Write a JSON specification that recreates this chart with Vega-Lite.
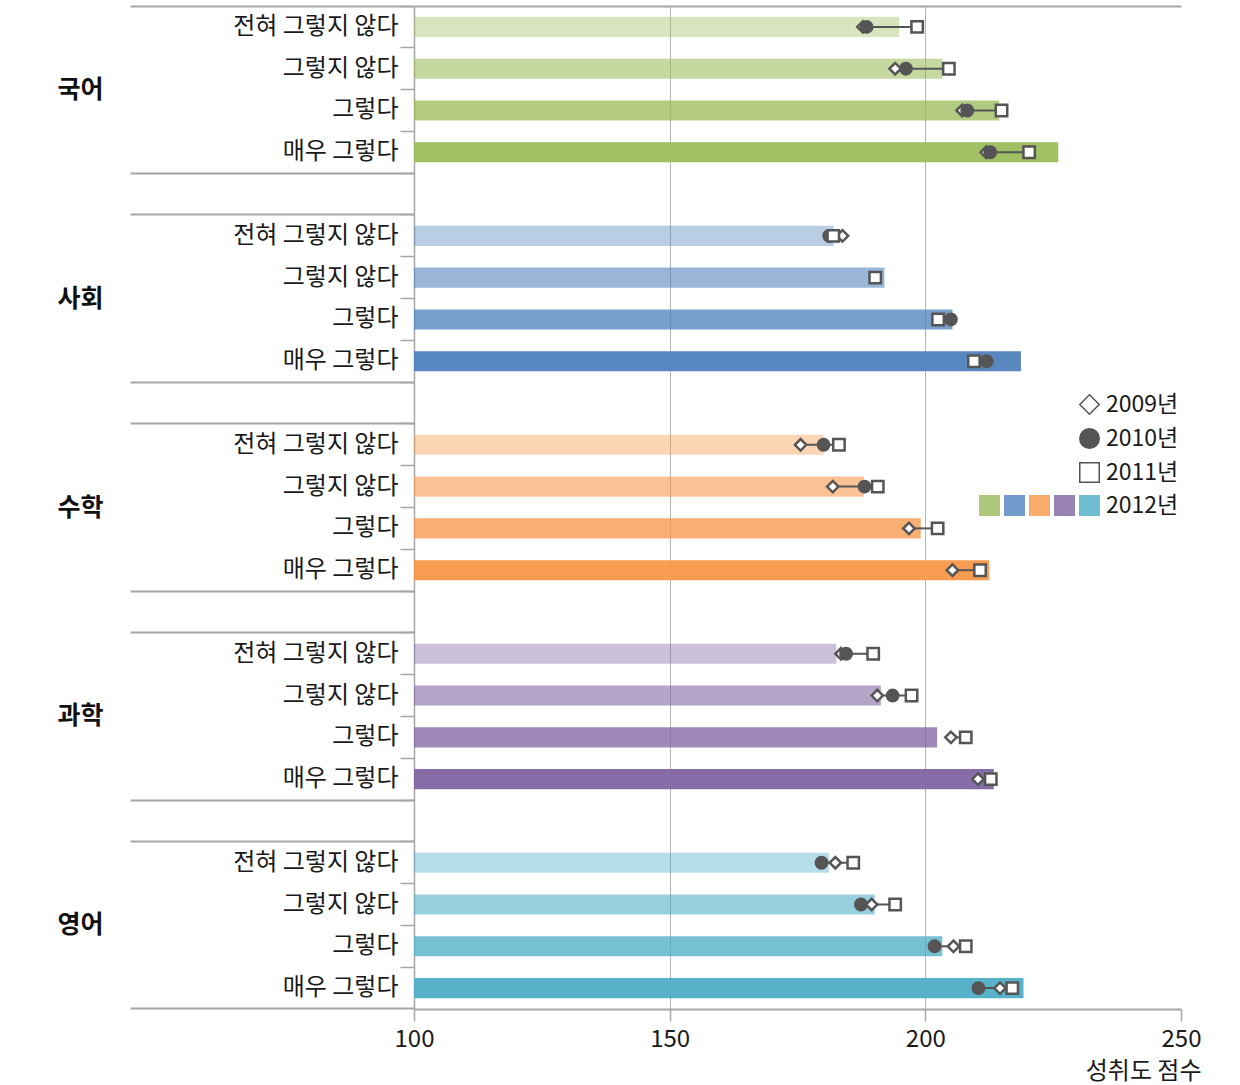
{
  "$schema": "https://vega.github.io/schema/vega-lite/v6.json",
  "width": 767,
  "height": 1003,
  "autosize": {"type": "none"},
  "padding": {"left": 414, "top": 6, "right": 59, "bottom": 76},
  "config": {"view": {"stroke": null}, "font": "Noto Sans CJK KR"},
  "data": {
    "values": [
      {"subject": "국어", "level": "전혀 그렇지 않다", "row": "국어|전혀 그렇지 않다", "2009년": 187.8, "2010년": 188.5, "2011년": 198.4, "2012년": 194.9},
      {"subject": "국어", "level": "그렇지 않다", "row": "국어|그렇지 않다", "2009년": 194.1, "2010년": 196.2, "2011년": 204.6, "2012년": 203.3},
      {"subject": "국어", "level": "그렇다", "row": "국어|그렇다", "2009년": 207.2, "2010년": 208.2, "2011년": 214.9, "2012년": 214.4},
      {"subject": "국어", "level": "매우 그렇다", "row": "국어|매우 그렇다", "2009년": 211.9, "2010년": 212.7, "2011년": 220.3, "2012년": 226.0},
      {"subject": "사회", "level": "전혀 그렇지 않다", "row": "사회|전혀 그렇지 않다", "2009년": 183.8, "2010년": 181.2, "2011년": 182.0, "2012년": 182.1},
      {"subject": "사회", "level": "그렇지 않다", "row": "사회|그렇지 않다", "2009년": null, "2010년": null, "2011년": 190.2, "2012년": 192.0},
      {"subject": "사회", "level": "그렇다", "row": "사회|그렇다", "2009년": null, "2010년": 205.0, "2011년": 202.5, "2012년": 205.3},
      {"subject": "사회", "level": "매우 그렇다", "row": "사회|매우 그렇다", "2009년": null, "2010년": 212.0, "2011년": 209.5, "2012년": 218.7},
      {"subject": "수학", "level": "전혀 그렇지 않다", "row": "수학|전혀 그렇지 않다", "2009년": 175.6, "2010년": 180.1, "2011년": 183.1, "2012년": 180.1},
      {"subject": "수학", "level": "그렇지 않다", "row": "수학|그렇지 않다", "2009년": 181.9, "2010년": 188.1, "2011년": 190.7, "2012년": 188.0},
      {"subject": "수학", "level": "그렇다", "row": "수학|그렇다", "2009년": 196.8, "2010년": null, "2011년": 202.4, "2012년": 199.1},
      {"subject": "수학", "level": "매우 그렇다", "row": "수학|매우 그렇다", "2009년": 205.3, "2010년": null, "2011년": 210.7, "2012년": 212.5},
      {"subject": "과학", "level": "전혀 그렇지 않다", "row": "과학|전혀 그렇지 않다", "2009년": 183.5, "2010년": 184.5, "2011년": 189.8, "2012년": 182.6},
      {"subject": "과학", "level": "그렇지 않다", "row": "과학|그렇지 않다", "2009년": 190.6, "2010년": 193.6, "2011년": 197.3, "2012년": 191.3},
      {"subject": "과학", "level": "그렇다", "row": "과학|그렇다", "2009년": 205.0, "2010년": null, "2011년": 207.9, "2012년": 202.3},
      {"subject": "과학", "level": "매우 그렇다", "row": "과학|매우 그렇다", "2009년": 210.3, "2010년": null, "2011년": 212.8, "2012년": 213.4},
      {"subject": "영어", "level": "전혀 그렇지 않다", "row": "영어|전혀 그렇지 않다", "2009년": 182.4, "2010년": 179.7, "2011년": 185.9, "2012년": 181.2},
      {"subject": "영어", "level": "그렇지 않다", "row": "영어|그렇지 않다", "2009년": 189.5, "2010년": 187.4, "2011년": 194.1, "2012년": 190.1},
      {"subject": "영어", "level": "그렇다", "row": "영어|그렇다", "2009년": 205.5, "2010년": 201.8, "2011년": 207.9, "2012년": 203.3},
      {"subject": "영어", "level": "매우 그렇다", "row": "영어|매우 그렇다", "2009년": 214.6, "2010년": 210.4, "2011년": 217.0, "2012년": 219.2}
    ]
  },
  "resolve": {"axis": {"x": "independent", "y": "independent"}},
  "layer": [
    {
      "mark": {"type": "bar", "height": {"band": 0.48}},
      "encoding": {
        "y": {
          "field": "row", "type": "nominal",
          "scale": {
            "domain": ["국어|전혀 그렇지 않다", "국어|그렇지 않다", "국어|그렇다", "국어|매우 그렇다", "g1",
                       "사회|전혀 그렇지 않다", "사회|그렇지 않다", "사회|그렇다", "사회|매우 그렇다", "g2",
                       "수학|전혀 그렇지 않다", "수학|그렇지 않다", "수학|그렇다", "수학|매우 그렇다", "g3",
                       "과학|전혀 그렇지 않다", "과학|그렇지 않다", "과학|그렇다", "과학|매우 그렇다", "g4",
                       "영어|전혀 그렇지 않다", "영어|그렇지 않다", "영어|그렇다", "영어|매우 그렇다"],
            "paddingInner": 0, "paddingOuter": 0
          },
          "axis": {
            "orient": "left", "title": null, "bandPosition": 0,
            "tickSize": 14, "tickColor": "#a6a6a6", "tickWidth": 1.5,
            "domainColor": "#a6a6a6", "domainWidth": 1.5, "grid": false,
            "labelExpr": "indexof(datum.value, '|') > 0 ? split(datum.value, '|')[1] : ''",
            "labelFont": "Noto Sans CJK KR", "labelFontSize": 24, "labelColor": "#1a1a1a",
            "labelPadding": 2, "labelLimit": 400, "labelOverlap": false
          }
        },
        "x": {
          "field": "2012년", "type": "quantitative",
          "scale": {"domain": [100, 250], "nice": false, "zero": false},
          "axis": {
            "orient": "bottom", "values": [100, 150, 200, 250],
            "grid": true, "gridColor": "#b3b3b3", "gridWidth": 1,
            "gridOpacity": {"condition": {"test": "datum.value == 150 || datum.value == 200", "value": 1}, "value": 0},
            "domainColor": "#a6a6a6", "domainWidth": 2,
            "tickColor": "#a6a6a6", "tickSize": 12, "tickWidth": 1.5,
            "labelFont": "Noto Sans CJK KR", "labelFontSize": 24, "labelColor": "#1a1a1a",
            "labelPadding": 6, "labelFlush": false,
            "title": "성취도 점수", "titleFont": "Noto Sans CJK KR", "titleFontSize": 24,
            "titleFontWeight": "normal", "titleColor": "#1a1a1a",
            "titleX": 787, "titleY": 62, "titleAlign": "right", "titleBaseline": "middle"
          }
        },
        "x2": {"datum": 100},
        "color": {
          "field": "subject", "type": "nominal",
          "scale": {"domain": ["국어", "사회", "수학", "과학", "영어"],
                    "range": ["#9bbb59", "#4f81bd", "#f79646", "#8064a2", "#4bacc6"]},
          "legend": {
            "title": "2012년", "orient": "none", "legendX": 565, "legendY": 489,
            "direction": "horizontal", "columns": 5, "symbolType": "square",
            "symbolSize": 441, "symbolOpacity": 0.8, "symbolStrokeWidth": 0,
            "labelExpr": "''", "labelOffset": 0, "columnPadding": 4,
            "titleOrient": "right", "titlePadding": 6, "titleFont": "Noto Sans CJK KR",
            "titleFontSize": 23, "titleFontWeight": "normal", "titleColor": "#1a1a1a", "padding": 0
          }
        },
        "opacity": {
          "field": "level", "type": "nominal",
          "scale": {"type": "point", "padding": 0,
                    "domain": ["전혀 그렇지 않다", "그렇지 않다", "그렇다", "매우 그렇다"], "range": [0.4, 0.94]},
          "legend": null
        }
      }
    },
    {
      "transform": [
        {"fold": ["2009년", "2010년", "2011년"], "as": ["year", "score"]},
        {"filter": "isValid(datum.score)"},
        {"aggregate": [{"op": "min", "field": "score", "as": "lo"}, {"op": "max", "field": "score", "as": "hi"}], "groupby": ["row"]}
      ],
      "mark": {"type": "rule", "color": "#555555", "strokeWidth": 2},
      "encoding": {
        "y": {
          "field": "row", "type": "nominal",
          "axis": {
            "orient": "left", "title": null,
            "values": ["국어|전혀 그렇지 않다", "g1", "사회|전혀 그렇지 않다", "g2", "수학|전혀 그렇지 않다", "g3", "과학|전혀 그렇지 않다", "g4", "영어|전혀 그렇지 않다"],
            "bandPosition": 0, "tickSize": 284, "tickColor": "#a6a6a6", "tickWidth": 2,
            "domain": false, "grid": false,
            "labelExpr": "indexof(datum.value, '|') > 0 ? split(datum.value, '|')[0] : ''",
            "labelOffset": 62.7, "labelPadding": 27,
            "labelFont": "Noto Sans CJK KR", "labelFontSize": 25, "labelFontWeight": "bold",
            "labelColor": "#111111", "labelLimit": 400, "labelOverlap": false
          }
        },
        "x": {
          "field": "lo", "type": "quantitative",
          "axis": {"orient": "top", "title": null, "labels": false, "ticks": false, "grid": false,
                   "domain": true, "domainColor": "#a6a6a6", "domainWidth": 2}
        },
        "x2": {"field": "hi"}
      }
    },
    {
      "transform": [
        {"fold": ["2009년", "2010년", "2011년"], "as": ["year", "score"]},
        {"filter": "isValid(datum.score)"}
      ],
      "mark": {"type": "point", "stroke": "#555555", "strokeWidth": 2.5, "size": 130, "opacity": 1},
      "encoding": {
        "y": {
          "field": "row", "type": "nominal",
          "axis": {
            "orient": "left", "title": null, "values": ["영어|매우 그렇다"],
            "bandPosition": 1, "tickSize": 284, "tickColor": "#a6a6a6", "tickWidth": 2,
            "labels": false, "domain": false, "grid": false
          }
        },
        "x": {"field": "score", "type": "quantitative", "axis": null},
        "shape": {
          "field": "year", "type": "nominal",
          "scale": {"domain": ["2009년", "2010년", "2011년"], "range": ["diamond", "circle", "square"]},
          "legend": {
            "title": null, "orient": "none", "legendX": 664, "legendY": 387,
            "symbolSize": 380,
            "labelFont": "Noto Sans CJK KR", "labelFontSize": 23, "labelColor": "#1a1a1a",
            "labelOffset": 5, "rowPadding": 7, "padding": 0, "direction": "vertical",
            "encode": {"symbols": {"stroke": {"value": "#555555"}, "strokeWidth": {"value": 3}, "strokeOpacity": {"value": 1}}}
          }
        },
        "fill": {
          "field": "year", "type": "nominal",
          "scale": {"domain": ["2009년", "2010년", "2011년"], "range": ["#ffffff", "#555555", "#ffffff"]},
          "legend": {
            "title": null, "orient": "none", "legendX": 664, "legendY": 387,
            "symbolSize": 380,
            "labelFont": "Noto Sans CJK KR", "labelFontSize": 23, "labelColor": "#1a1a1a",
            "labelOffset": 5, "rowPadding": 7, "padding": 0, "direction": "vertical",
            "encode": {"symbols": {"stroke": {"value": "#555555"}, "strokeWidth": {"value": 3}, "strokeOpacity": {"value": 1}}}
          }
        }
      }
    }
  ]
}
